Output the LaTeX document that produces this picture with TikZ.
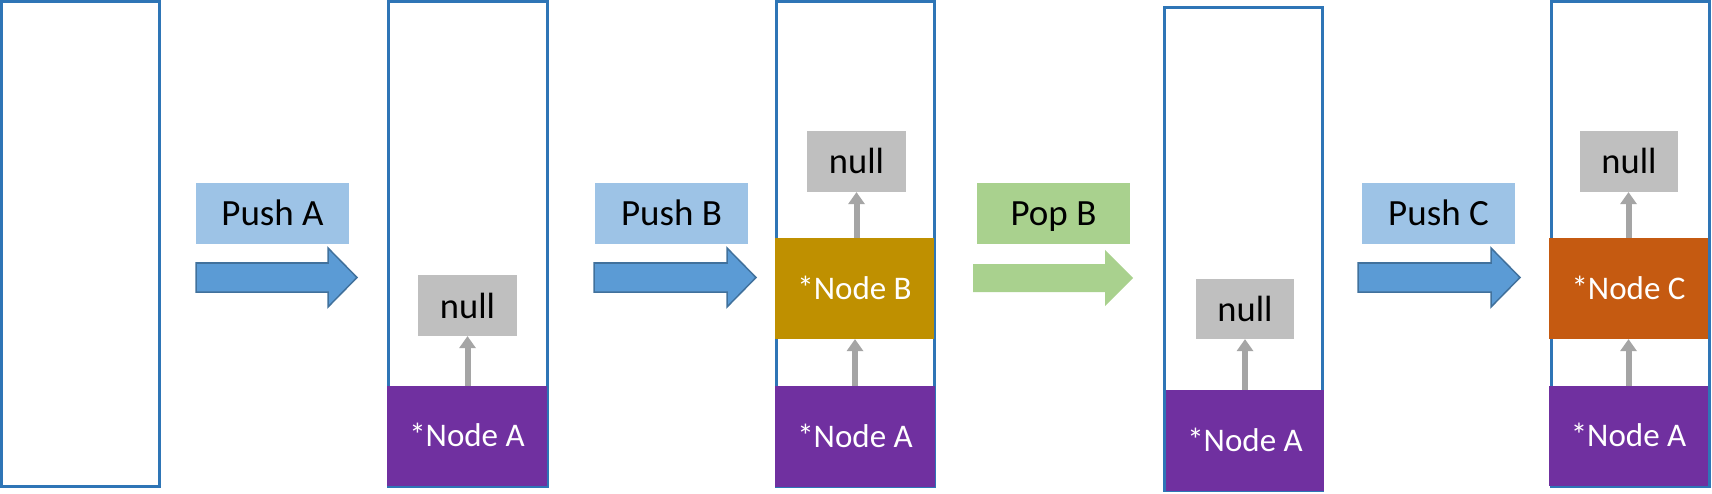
\documentclass[tikz,border=0pt]{standalone}
\usepackage{fontspec}
\setmainfont{Carlito}
\usetikzlibrary{calc}
\definecolor{boxblue}{HTML}{2E75B6}
\definecolor{purpleA}{HTML}{7030A0}
\definecolor{goldB}{HTML}{BF9000}
\definecolor{orangeC}{HTML}{C55A11}
\definecolor{nullgray}{HTML}{BFBFBF}
\definecolor{linkgray}{HTML}{A5A5A5}
\definecolor{lblblue}{HTML}{9DC3E6}
\definecolor{lblgreen}{HTML}{A9D18E}
\definecolor{arrowblue}{HTML}{5B9BD5}
\definecolor{arrowedge}{HTML}{41719C}
\tikzset{
  stackbox/.style={draw=boxblue, line width=3pt, fill=white},
  cell/.style={rectangle, inner sep=0pt, minimum width=159pt, minimum height=101pt,
    text=white, font=\fontsize{33}{38}\selectfont, text height=21.3pt, text depth=0pt},
  nullcell/.style={rectangle, inner sep=0pt, fill=nullgray, minimum width=99pt,
    minimum height=61pt, font=\fontsize{36.5}{42}\selectfont, text height=25pt, text depth=0pt},
  oplabel/.style={rectangle, inner sep=0pt, minimum width=153pt, minimum height=61pt,
    font=\fontsize{37}{42}\selectfont, text height=23.8pt, text depth=0pt},
  linkshaft/.style={draw=linkgray, line width=6pt},
  linkhead/.style={fill=linkgray},
  pusharrow/.style={fill=arrowblue, draw=arrowedge, line width=1.5pt, line join=miter},
  poparrow/.style={fill=lblgreen},
}
% link from bottom point #1 up to top point #2 (same x)
\newcommand{\uplink}[2]{%
  \draw[linkshaft] (#1) -- ($(#2)+(0,10)$);
  \fill[linkhead] (#2) -- ++(-8.5,12) -- ++(17,0) -- cycle;}
\begin{document}
\begin{tikzpicture}[x=1pt,y=-1pt]
\useasboundingbox (0,0) rectangle (1712,494);
% stacks
\draw[stackbox] (1.5,2) rectangle (159.5,486.5);
\draw[stackbox] (388,2) rectangle (547,486.5);
\draw[stackbox] (776,2) rectangle (934.5,486.5);
\draw[stackbox] (1164.5,7.5) rectangle (1322.5,490.5);
\draw[stackbox] (1551,2) rectangle (1709.5,486.5);

% operation labels
\node[oplabel, fill=lblblue] (pa) at (272.5,213.5) {Push A};
\node[oplabel, fill=lblblue] (pb) at (671.5,213.5) {Push B};
\node[oplabel, fill=lblgreen] (ob) at (1053.5,213.5) {Pop B};
\node[oplabel, fill=lblblue] (pc) at (1438.5,214) {Push C};

% block arrows
\filldraw[pusharrow] (196,263) -- (328,263) -- (328,248) -- (357,277.5) -- (328,307) -- (328,292) -- (196,292) -- cycle;
\filldraw[pusharrow] (594,263) -- (727,263) -- (727,248) -- (756,277.5) -- (727,307) -- (727,292) -- (594,292) -- cycle;
\fill[poparrow] (973,264) -- (1105,264) -- (1105,250) -- (1133,278) -- (1105,306) -- (1105,292) -- (973,292) -- cycle;
\filldraw[pusharrow] (1358,263) -- (1491,263) -- (1491,248) -- (1520,277.5) -- (1491,307) -- (1491,292) -- (1358,292) -- cycle;

% stack 2
\node[cell, fill=purpleA, minimum width=160pt, minimum height=100pt] (a2) at (467,436) {*Node A};
\node[nullcell] (n2) at (467.5,305.5) {null};
\uplink{a2.north -| n2.south}{n2.south}

% stack 3
\node[cell, fill=purpleA, minimum width=160pt] (a3) at (855,436.5) {*Node A};
\node[cell, fill=goldB] (b3) at (854.5,288.5) {*Node B};
\node[nullcell] (n3) at (856.5,161.5) {null};
\uplink{a3.north}{a3.north |- b3.south}
\uplink{b3.north -| n3.south}{n3.south}

% stack 4
\node[cell, fill=purpleA, minimum width=158pt] (a4) at (1245,440.5) {*Node A};
\node[nullcell, minimum width=98pt, minimum height=60pt] (n4) at (1245,309) {null};
\uplink{a4.north}{n4.south}

% stack 5
\node[cell, fill=purpleA, minimum height=100pt] (a5) at (1628.5,436) {*Node A};
\node[cell, fill=orangeC] (c5) at (1628.5,288.5) {*Node C};
\node[nullcell, minimum width=98pt] (n5) at (1629,161.5) {null};
\uplink{a5.north}{c5.south}
\uplink{c5.north}{c5.north |- n5.south}
\end{tikzpicture}
\end{document}
